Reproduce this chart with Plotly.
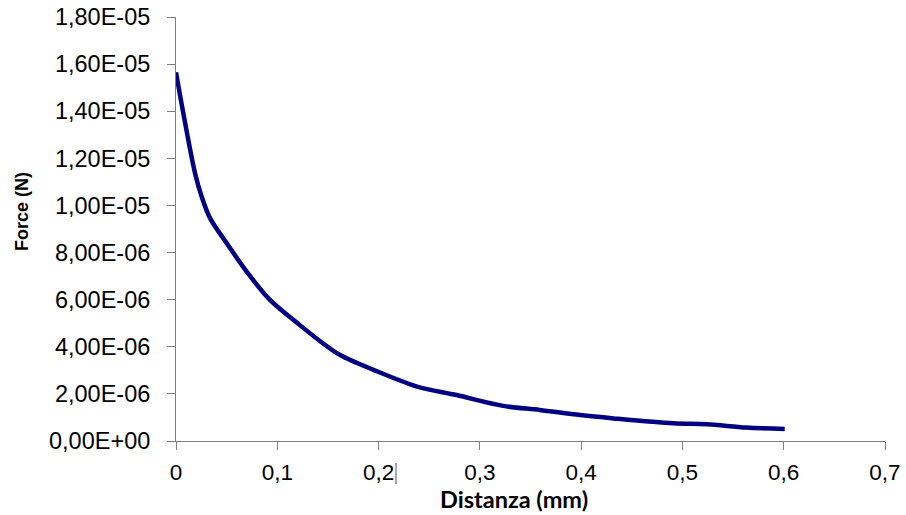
import plotly.graph_objects as go

# Data
distanza_mm = [0.0, 0.0072, 0.0188, 0.0253, 0.0336, 0.05, 0.0698, 0.0928, 0.122,
               0.145, 0.162, 0.195, 0.238, 0.277, 0.323, 0.359, 0.399, 0.432,
               0.491, 0.524, 0.563, 0.601]
force_N = [15.65e-6, 13.92e-6, 11.37e-6, 10.38e-6, 9.46e-6, 8.40e-6, 7.19e-6,
           5.99e-6, 4.93e-6, 4.15e-6, 3.65e-6, 3.02e-6, 2.31e-6, 1.95e-6,
           1.49e-6, 1.32e-6, 1.10e-6, 0.96e-6, 0.75e-6, 0.71e-6, 0.57e-6, 0.51e-6]

x_tickvals = [0, 0.1, 0.2, 0.3, 0.4, 0.5, 0.6, 0.7]
x_ticktext = ["0", "0,1", "0,2", "0,3", "0,4", "0,5", "0,6", "0,7"]
y_tickvals = [0, 2e-6, 4e-6, 6e-6, 8e-6, 10e-6, 12e-6, 14e-6, 16e-6, 18e-6]
y_ticktext = ["0,00E+00", "2,00E-06", "4,00E-06", "6,00E-06", "8,00E-06",
              "1,00E-05", "1,20E-05", "1,40E-05", "1,60E-05", "1,80E-05"]

fig = go.Figure()
fig.add_trace(go.Scatter(
    x=distanza_mm, y=force_N, mode="lines",
    line=dict(color="#000080", width=4.5, shape="spline", smoothing=0.9),
    showlegend=False, hoverinfo="skip"))

y_font = dict(family="Liberation Sans", size=23.5, color="#000000")
x_font = dict(family="Liberation Sans", size=22.5, color="#000000")

fig.update_layout(
    width=906, height=515,
    font=dict(family="Liberation Sans", size=21, color="#000000"),
    margin=dict(l=176, r=21, t=17, b=74, autoexpand=False),
    paper_bgcolor="white", plot_bgcolor="white",
    xaxis=dict(range=[0, 0.7], tickvals=x_tickvals, ticktext=x_ticktext,
               showgrid=False, zeroline=False, showline=True, linecolor="#7f7f7f",
               linewidth=1, ticks="outside", ticklen=8, tickcolor="#7f7f7f",
               tickfont=x_font, ticklabelstandoff=3),
    yaxis=dict(range=[0, 1.8e-5], tickvals=y_tickvals, ticktext=y_ticktext,
               showgrid=False, zeroline=False, showline=True, linecolor="#7f7f7f",
               linewidth=1, ticks="outside", ticklen=8, tickcolor="#7f7f7f",
               tickfont=y_font, ticklabelstandoff=12),
    annotations=[
        dict(text="<b>Distanza (mm)</b>", xref="paper", yref="paper",
             x=(514 - 176) / (885 - 176), y=-(499 - 441) / (441 - 17),
             xanchor="center", yanchor="middle", showarrow=False,
             font=dict(family="Lato", size=23.5, color="#000000")),
        dict(text="<b>Force (N)</b>", xref="paper", yref="paper",
             x=-(176 - 22) / (885 - 176), y=(441 - 212) / (441 - 17),
             xanchor="center", yanchor="middle", textangle=-90, showarrow=False,
             font=dict(family="Liberation Sans", size=18, color="#000000")),
    ],
    shapes=[dict(type="line", xref="paper", yref="paper",
                 x0=(396 - 176) / (885 - 176), x1=(396 - 176) / (885 - 176),
                 y0=-(463 - 441) / (441 - 17), y1=-(484 - 441) / (441 - 17),
                 line=dict(color="#555555", width=1))],
)

fig.write_html("out.html")
